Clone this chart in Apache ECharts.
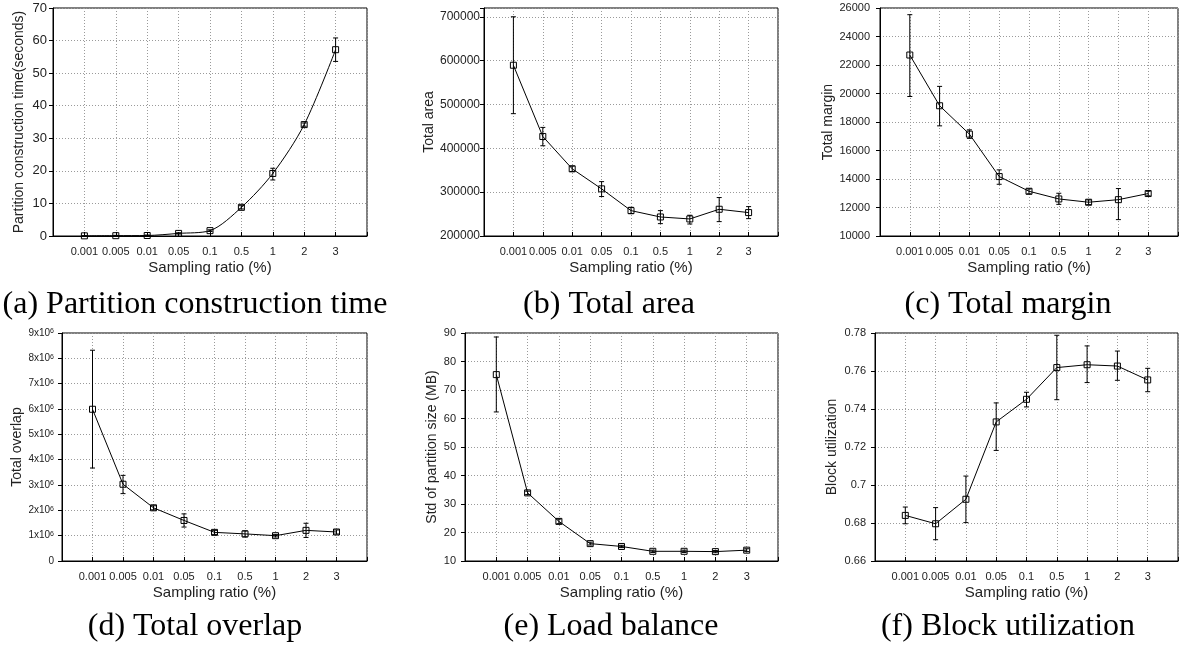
<!DOCTYPE html>
<html>
<head>
<meta charset="utf-8">
<script src="https://cdn.jsdelivr.net/npm/echarts@6/dist/echarts.min.js"></script>
<style>
html,body{margin:0;padding:0;background:#fff;}
#chart{width:1185px;height:646px;}
</style>
</head>
<body>
<div id="chart"></div>
<script>
// ---- data ----
const categories = ['0.001', '0.005', '0.01', '0.05', '0.1', '0.5', '1', '2', '3'];

const timeMean = [0.05, 0.1, 0.15, 0.8, 1.65, 8.8, 19.2, 34.2, 57.2];
const timeLow  = [0, 0, 0, 0.6, 1.4, 8.3, 17.2, 33.7, 53.6];
const timeHigh = [0.1, 0.2, 0.3, 1.0, 1.9, 9.3, 20.8, 34.7, 60.8];

const areaMean = [589500, 427000, 353200, 307500, 257900, 243400, 238900, 261000, 253400];
const areaLow  = [479000, 405800, 347000, 290000, 251000, 228200, 227400, 232800, 239600];
const areaHigh = [700000, 447700, 359400, 324000, 265500, 257900, 247300, 287700, 267000];

const marginMean = [22700, 19140, 17150, 14170, 13140, 12600, 12370, 12550, 12980];
const marginLow  = [19790, 17730, 16850, 13630, 12960, 12220, 12200, 11150, 12820];
const marginHigh = [25530, 20500, 17450, 14640, 13300, 13000, 12530, 13330, 13140];

const overlapMean = [5990000, 3030000, 2100000, 1600000, 1130000, 1070000, 1000000, 1210000, 1145000];
const overlapLow  = [3670000, 2660000, 2020000, 1340000, 1050000, 950000, 950000, 930000, 1065000];
const overlapHigh = [8320000, 3380000, 2180000, 1860000, 1210000, 1190000, 1050000, 1490000, 1225000];

const balanceMean = [75.4, 33.9, 23.9, 16.1, 15.1, 13.4, 13.4, 13.3, 13.8];
const balanceLow  = [62.3, 33.3, 23.1, 15.6, 14.7, 13.0, 13.0, 12.9, 13.3];
const balanceHigh = [88.6, 34.5, 24.7, 16.6, 15.5, 13.8, 13.8, 13.7, 14.3];

const utilMean = [0.684, 0.6796, 0.6925, 0.7332, 0.7451, 0.7618, 0.7633, 0.7626, 0.7553];
const utilLow  = [0.6796, 0.6712, 0.6802, 0.7182, 0.7411, 0.7449, 0.7539, 0.7551, 0.7491];
const utilHigh = [0.6884, 0.6881, 0.7047, 0.7432, 0.7488, 0.7788, 0.7732, 0.7705, 0.7614];

const xTitle = 'Sampling ratio (%)';
const yTitles = ['Partition construction time(seconds)', 'Total area', 'Total margin',
                 'Total overlap', 'Std of partition size (MB)', 'Block utilization'];
const captions = ['(a) Partition construction time', '(b) Total area', '(c) Total margin',
                  '(d) Total overlap', '(e) Load balance', '(f) Block utilization'];

// ---- layout (not data) ----
const panels = [
  {grid:{left:53, top:8, width:314, height:228}, min:0, max:70, interval:10, mean:timeMean, low:timeLow, high:timeHigh, nameGap:27, labelMargin:6, labelSize:13, smooth:0.3},
  {grid:{left:484, top:8, width:294, height:228}, min:200000, max:720000, interval:100000, mean:areaMean, low:areaLow, high:areaHigh, nameGap:45, labelMargin:4, labelSize:12},
  {grid:{left:880, top:8, width:298, height:228}, min:10000, max:26000, interval:2000, mean:marginMean, low:marginLow, high:marginHigh, nameGap:41, labelMargin:10, labelSize:11},
  {grid:{left:62, top:333, width:305, height:228}, min:0, max:9000000, interval:1000000, mean:overlapMean, low:overlapLow, high:overlapHigh, nameGap:37, labelMargin:8, labelSize:10, sci:true},
  {grid:{left:465, top:333, width:313, height:228}, min:10, max:90, interval:10, mean:balanceMean, low:balanceLow, high:balanceHigh, nameGap:26, labelMargin:9, labelSize:11},
  {grid:{left:875, top:333, width:303, height:228}, min:0.66, max:0.78, interval:0.02, mean:utilMean, low:utilLow, high:utilHigh, nameGap:36, labelMargin:9, labelSize:11}
];
const captionPos = [[195, 305], [609, 305], [1008, 305], [195, 627], [611, 627], [1008, 627]];

const SANS = 'Liberation Sans, Arial, sans-serif';
const gridLine = {show:true, lineStyle:{color:'#9a9a9a', width:1, type:[1,2]}};

const option = {
  animation: false,
  backgroundColor: '#fff',
  grid: [], xAxis: [], yAxis: [], series: [], graphic: []
};

panels.forEach((p, i) => {
  option.grid.push(Object.assign({show:true, borderColor:'#000', borderWidth:1, containLabel:false}, p.grid));
  option.xAxis.push({
    type:'value', gridIndex:i, min:0, max:10, interval:1,
    axisLine:{show:true, lineStyle:{color:'#000', width:1}},
    axisTick:{show:true, inside:true, length:4, lineStyle:{color:'#000'}},
    axisLabel:{margin:10, fontSize:11, color:'#222', fontFamily:SANS,
      formatter: v => (v >= 1 && v <= 9) ? categories[v - 1] : ''},
    splitLine: gridLine,
    name: xTitle, nameLocation:'middle', nameGap:24,
    nameTextStyle:{fontSize:15, color:'#222', fontFamily:SANS}
  });
  const yLabel = {margin:p.labelMargin, fontSize:p.labelSize, color:'#222', fontFamily:SANS};
  if (p.sci) {
    yLabel.formatter = v => v === 0 ? '0' : (Math.round(v / 1e6) + 'x10{s|6}');
    yLabel.rich = {s:{fontSize:7, verticalAlign:'top', color:'#222', fontFamily:SANS, lineHeight:8}};
  } else {
    yLabel.formatter = v => {
      const k = Math.round((v - p.min) / p.interval);
      if (Math.abs(p.min + k * p.interval - v) > p.interval * 1e-6) return '';
      return String(+v.toFixed(4));
    };
  }
  option.yAxis.push({
    type:'value', gridIndex:i, min:p.min, max:p.max, interval:p.interval,
    axisLine:{show:true, lineStyle:{color:'#000', width:1}},
    axisTick:{show:true, inside:false, length:4, lineStyle:{color:'#000'}},
    axisLabel: yLabel,
    splitLine: gridLine,
    name: yTitles[i], nameLocation:'middle', nameGap:p.nameGap,
    nameTextStyle:{fontSize:14, color:'#222', fontFamily:SANS}
  });
  option.series.push({
    type:'custom', xAxisIndex:i, yAxisIndex:i,
    data: categories.map((c, j) => [j + 1, p.low[j], p.high[j]]),
    encode:{x:0, y:[1,2]},
    renderItem: (params, api) => {
      const x = api.value(0);
      const a = api.coord([x, api.value(1)]);
      const b = api.coord([x, api.value(2)]);
      const w = 2.5;
      const st = {stroke:'#000', lineWidth:1};
      return {type:'group', children:[
        {type:'line', shape:{x1:a[0], y1:a[1], x2:b[0], y2:b[1]}, style:st},
        {type:'line', shape:{x1:a[0]-w, y1:a[1], x2:a[0]+w, y2:a[1]}, style:st},
        {type:'line', shape:{x1:b[0]-w, y1:b[1], x2:b[0]+w, y2:b[1]}, style:st}
      ]};
    },
    z: 3
  });
  option.series.push({
    type:'line', xAxisIndex:i, yAxisIndex:i,
    data: categories.map((c, j) => [j + 1, p.mean[j]]),
    smooth: p.smooth || false,
    symbol:'rect', symbolSize:6, showSymbol:true,
    lineStyle:{color:'#000', width:1},
    itemStyle:{color:'rgba(255,255,255,0)', borderColor:'#000', borderWidth:1},
    z: 4
  });
  option.graphic.push({
    type:'text', x:captionPos[i][0], y:captionPos[i][1],
    style:{text:captions[i], fill:'#000', font:'32px "Liberation Serif", "Times New Roman", serif',
      textAlign:'center', textVerticalAlign:'middle'}
  });
});

const chart = echarts.init(document.getElementById('chart'), null, {renderer:'canvas'});
chart.setOption(option);
</script>
</body>
</html>
